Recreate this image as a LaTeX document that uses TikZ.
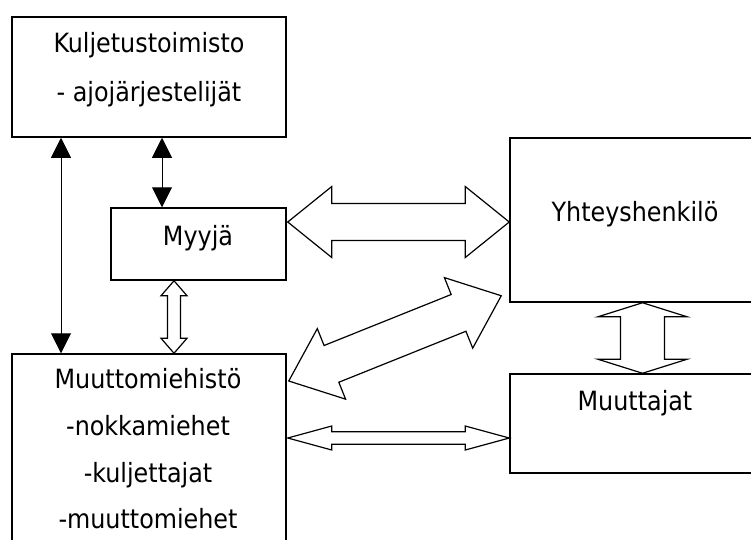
\documentclass[tikz,border=0pt]{standalone}
\usepackage{fontspec}
\setmainfont{DejaVu Sans Condensed}
\usetikzlibrary{arrows.meta,calc}
\newcommand\blockarrow[5]{%
  \coordinate (ba1) at ($(#1)!#3!(#2)$);
  \coordinate (ba2) at ($(#2)!#3!(#1)$);
  \draw[blk] (#1) -- ($(ba1)!#4!90:(#2)$) -- ($(ba1)!#5!90:(#2)$)
    -- ($(ba2)!#5!270:(#1)$) -- ($(ba2)!#4!270:(#1)$) -- (#2)
    -- ($(ba2)!#4!90:(#1)$) -- ($(ba2)!#5!90:(#1)$)
    -- ($(ba1)!#5!270:(#2)$) -- ($(ba1)!#4!270:(#2)$) -- cycle;
}
\begin{document}
\begin{tikzpicture}[x=1pt,y=-1pt,
  box/.style={draw, line width=1.5pt, rectangle, inner sep=0pt},
  txt/.style={anchor=base, inner sep=0pt, font=\fontsize{26.5}{30}\selectfont},
  blk/.style={draw, fill=white, line width=1.2pt, line join=miter},
  thinarrow/.style={line width=1pt, {Triangle[length=20pt,width=20pt]}-{Triangle[length=20pt,width=20pt]}}]
\useasboundingbox (0,0) rectangle (751,539);
\clip (0,0) rectangle (751,539);
% boxes
\node[box, minimum width=274pt, minimum height=120pt] (kul) at (149,77) {};
\node[box, minimum width=175pt, minimum height=72pt] (myyja) at (198.5,244) {};
\node[box, minimum width=250pt, minimum height=164pt] (yht) at (635,220) {};
\node[box, minimum width=250pt, minimum height=99pt] (muutt) at (635,423.5) {};
\node[box, minimum width=274pt, minimum height=206pt] (muu) at (149,457) {};
% texts
\node[txt] (t1) at (149,52) {Kuljetustoimisto};
\node[txt] (t2) at (149,101) {- ajojärjestelijät};
\node[txt] (t3) at (198,245) {Myyjä};
\node[txt] (t4) at (635,221) {Yhteyshenkilö};
\node[txt] (t5) at (635,410) {Muuttajat};
\node[txt] (t6) at (148,388) {Muuttomiehistö};
\node[txt] (t7) at (148,435) {-nokkamiehet};
\node[txt] (t8) at (148,482) {-kuljettajat};
\node[txt] (t9) at (148,528) {-muuttomiehet};
% thin arrows
\draw[thinarrow] ($(kul.south)+(-88,0)$) -- ($(muu.north)+(-88,0)$);
\draw[thinarrow] ($(kul.south)+(13,0)$) -- ($(myyja.north)+(-36.5,0)$);
% block arrow end points
\coordinate (p1a) at ($(myyja.east |- yht.west)+(1,2)$);
\coordinate (p1b) at ($(yht.west)+(0,2)$);
\coordinate (p2a) at ($(myyja.south)+(-24.5,0)$);
\coordinate (p2b) at (p2a |- muu.north);
\coordinate (p3a) at ($(yht.south)+(7.5,0)$);
\coordinate (p3b) at (p3a |- muutt.north);
\coordinate (p4a) at ($(muu.east)+(1,-19)$);
\coordinate (p4b) at (p4a -| muutt.west);
\coordinate (p5a) at ($(muu.east)+(2,-76)$);
\coordinate (p5b) at ($(yht.south west)+(-8,-7)$);
\blockarrow{p1a}{p1b}{44pt}{35.5pt}{18.5pt}
\blockarrow{p2a}{p2b}{15pt}{13pt}{6.5pt}
\blockarrow{p3a}{p3b}{14pt}{44.5pt}{22pt}
\blockarrow{p4a}{p4b}{44pt}{12pt}{6.3pt}
\blockarrow{p5a}{p5b}{46pt}{38pt}{19.8pt}
\end{tikzpicture}
\end{document}
